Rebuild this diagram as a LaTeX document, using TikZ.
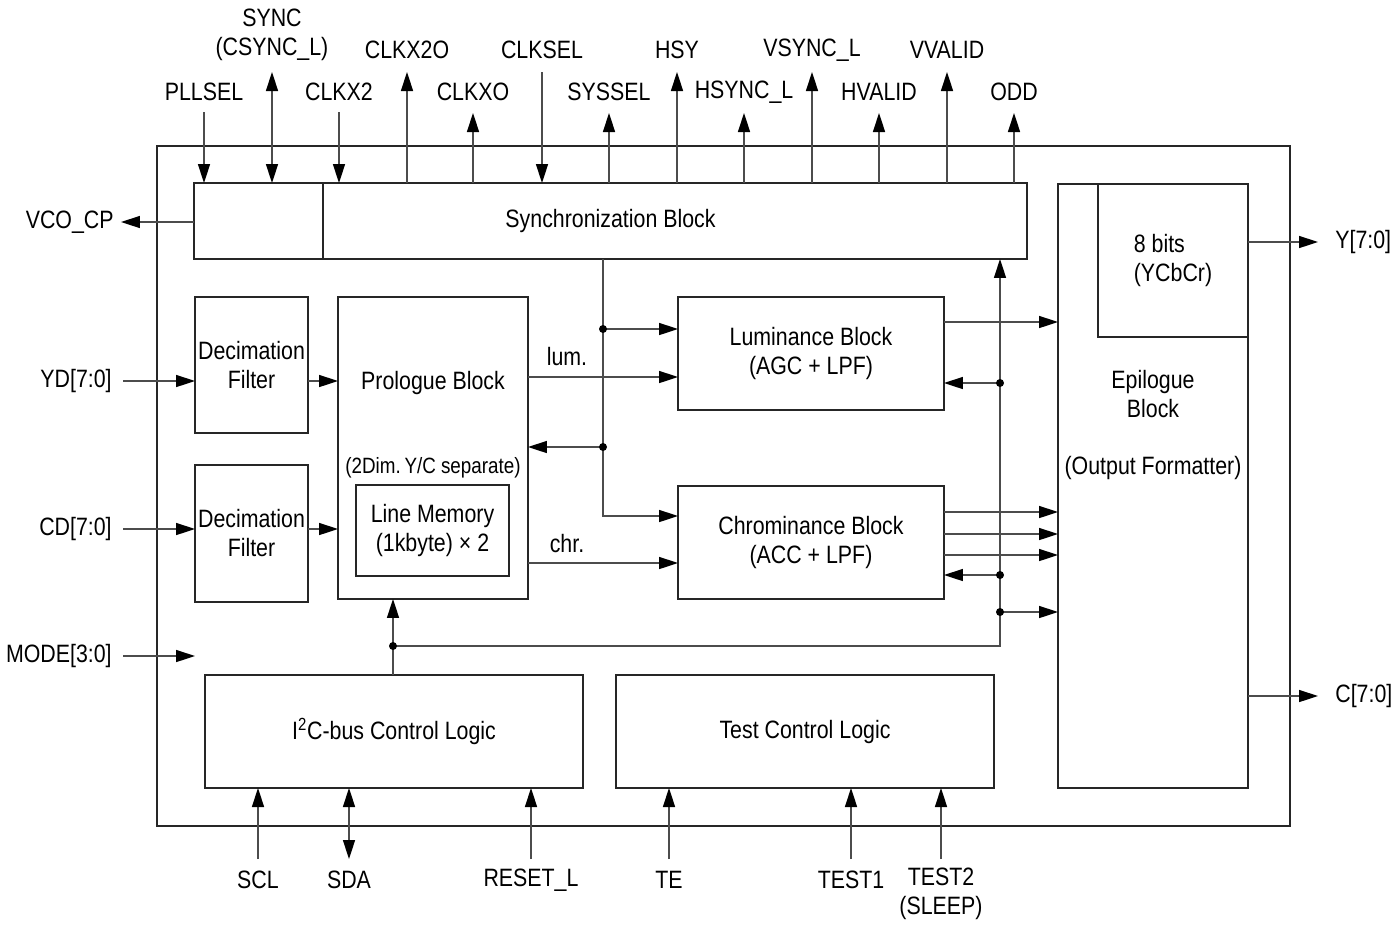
\documentclass[tikz,border=0pt]{standalone}
\usepackage{fontspec}
\setmainfont{Liberation Sans}[FakeStretch=0.85]
\usepackage{tikz}
\usetikzlibrary{arrows.meta,calc}

\begin{document}
\begin{tikzpicture}[
    x=0.02cm, y=-0.02cm,
    every node/.style={font=\fontsize{14.3}{16.5}\selectfont},
    rim/.style={draw=black!85, line width=1.1pt},
    blk/.style={
        rectangle,
        rim,
        inner sep=0pt,
        outer sep=0pt,
        align=center
    },
    lbl/.style={inner sep=0.1cm, align=center},
    wire/.style={draw=black!70, line width=0.85pt},
    arr/.style={wire, -{Triangle[length=0.38cm, width=0.24cm, color=black]}},
    biarr/.style={wire, {Triangle[length=0.38cm, width=0.24cm, color=black]}-{Triangle[length=0.38cm, width=0.24cm, color=black]}},
    dot/.style={circle, fill=black, inner sep=0pt, minimum size=0.16cm}
]
\useasboundingbox (0,0) rectangle (1399,924);

% Chip outline and blocks
\node[blk, minimum width=22.66cm, minimum height=13.6cm] (chip) at (723.5,486) {};

\node[blk, minimum width=16.66cm, minimum height=1.52cm] (sync) at (610.5,221) {Synchronization Block};
\draw[rim] (323,0 |- sync.north) -- (323,0 |- sync.south);

\node[blk, minimum width=2.26cm, minimum height=2.72cm] (decy) at (251.5,365) {Decimation\\Filter};
\node[blk, minimum width=2.26cm, minimum height=2.74cm] (decc) at (251.5,533.5) {Decimation\\Filter};

\node[blk, minimum width=3.8cm, minimum height=6.04cm] (pro) at (433,448) {};
\node (protitle) at (433,383) {Prologue Block};
\node[font=\fontsize{12.6}{15}\selectfont] (prosep) at (433,468) {(2Dim.\,Y/C separate)};
\node[blk, minimum width=3.06cm, minimum height=1.82cm] (linemem) at (432.5,530.5) {Line Memory\\(1kbyte) × 2};

\node[blk, minimum width=5.32cm, minimum height=2.26cm] (lum) at (811,353.5) {Luminance Block\\(AGC + LPF)};
\node[blk, minimum width=5.32cm, minimum height=2.26cm] (chro) at (811,542.5) {Chrominance Block\\(ACC + LPF)};

\node[blk, minimum width=3.8cm, minimum height=12.08cm] (epi) at (1153,486) {};
\node[blk, minimum width=3.0cm, minimum height=3.06cm, align=left] (bits) at (1173,260.5) {8 bits\\(YCbCr)};
\node[align=center] (epititle) at (1153,425) {Epilogue\\Block\\[0.58cm](Output Formatter)};

\node[blk, minimum width=7.56cm, minimum height=2.26cm] (i2c) at (394,731.5) {I\textsuperscript{2}C-bus Control Logic};
\node[blk, minimum width=7.56cm, minimum height=2.26cm] (test) at (805,731.5) {Test Control Logic};

% Top pins
\node[lbl] (pllsel) at (204,92) {PLLSEL};
\node[lbl] (syncl) at (272,35) {SYNC\\(CSYNC\_L)};
\node[lbl] (clkx2) at (339,92) {CLKX2};
\node[lbl] (clkx2o) at (407,50) {CLKX2O};
\node[lbl] (clkxo) at (473,92) {CLKXO};
\node[lbl] (clksel) at (542,50) {CLKSEL};
\node[lbl] (syssel) at (609,92) {SYSSEL};
\node[lbl] (hsy) at (677,50) {HSY};
\node[lbl] (hsyncl) at (744,92) {HSYNC\_L};
\node[lbl] (vsyncl) at (812,50) {VSYNC\_L};
\node[lbl] (hvalid) at (879,92) {HVALID};
\node[lbl] (vvalid) at (947,50) {VVALID};
\node[lbl] (odd) at (1014,92) {ODD};

\coordinate (pllselpin) at (204,112);
\coordinate (syncpin) at (272,72);
\coordinate (clkx2pin) at (339,112);
\coordinate (clkx2opin) at (407,72);
\coordinate (clkxopin) at (473,113);
\coordinate (clkselpin) at (542,72);
\coordinate (sysselpin) at (609,113);
\coordinate (hsypin) at (677,72);
\coordinate (hsynclpin) at (744,113);
\coordinate (vsynclpin) at (812,72);
\coordinate (hvalidpin) at (879,113);
\coordinate (vvalidpin) at (947,72);
\coordinate (oddpin) at (1014,113);

\draw[arr] (pllselpin) -- (pllselpin |- sync.north);
\draw[biarr] (syncpin) -- (syncpin |- sync.north);
\draw[arr] (clkx2pin) -- (clkx2pin |- sync.north);
\draw[arr] (clkx2opin |- sync.north) -- (clkx2opin);
\draw[arr] (clkxopin |- sync.north) -- (clkxopin);
\draw[arr] (clkselpin) -- (clkselpin |- sync.north);
\draw[arr] (sysselpin |- sync.north) -- (sysselpin);
\draw[arr] (hsypin |- sync.north) -- (hsypin);
\draw[arr] (hsynclpin |- sync.north) -- (hsynclpin);
\draw[arr] (vsynclpin |- sync.north) -- (vsynclpin);
\draw[arr] (hvalidpin |- sync.north) -- (hvalidpin);
\draw[arr] (vvalidpin |- sync.north) -- (vvalidpin);
\draw[arr] (oddpin |- sync.north) -- (oddpin);

% Left pins
\node[lbl, anchor=east] (vcocp) at (119,222) {VCO\_CP};
\node[lbl, anchor=east] (yd) at (117,381) {YD[7:0]};
\node[lbl, anchor=east] (cd) at (117,529) {CD[7:0]};
\node[lbl, anchor=east] (mode) at (117,656) {MODE[3:0]};

\coordinate (vcopin) at (121,222);
\coordinate (ydpin) at (123,381);
\coordinate (cdpin) at (123,529);
\coordinate (modepin) at (123,656);
\coordinate (modeend) at (195,656);

\draw[arr] (vcopin -| sync.west) -- (vcopin);
\draw[arr] (ydpin) -- (ydpin -| decy.west);
\draw[arr] (ydpin -| decy.east) -- (ydpin -| pro.west);
\draw[arr] (cdpin) -- (cdpin -| decc.west);
\draw[arr] (cdpin -| decc.east) -- (cdpin -| pro.west);
\draw[arr] (modepin) -- (modeend);

% Internal buses
\coordinate (busa) at (603,329);
\coordinate (busb) at (603,447);
\coordinate (busc) at (603,516);
\draw[arr] (busa |- sync.south) -- (busc) -- (busc -| chro.west);
\draw[arr] (busa) -- (busa -| lum.west);
\draw[arr] (busb) -- (busb -| pro.east);
\node[dot] (dota) at (busa) {};
\node[dot] (dotb) at (busb) {};

\coordinate (lumsig) at (600,377);
\coordinate (chrsig) at (600,563);
\draw[arr] (lumsig -| pro.east) -- (lumsig -| lum.west);
\draw[arr] (chrsig -| pro.east) -- (chrsig -| chro.west);
\node (lumlbl) at (567,357) {lum.};
\node (chrlbl) at (567,544) {chr.};

\coordinate (ctrl) at (393,646);
\coordinate (fbbot) at (1000,646);
\coordinate (fba) at (1000,383);
\coordinate (fbb) at (1000,575);
\coordinate (fbc) at (1000,612);
\draw[arr] (ctrl |- i2c.north) -- (ctrl |- pro.south);
\draw[arr] (ctrl) -- (fbbot) -- (fbbot |- sync.south);
\draw[arr] (fba) -- (fba -| lum.east);
\draw[arr] (fbb) -- (fbb -| chro.east);
\draw[arr] (fbc) -- (fbc -| epi.west);
\node[dot] (dotc) at (ctrl) {};
\node[dot] (dotd) at (fba) {};
\node[dot] (dote) at (fbb) {};
\node[dot] (dotf) at (fbc) {};

\coordinate (lumout) at (1000,322);
\coordinate (chrouta) at (1000,512);
\coordinate (chroutb) at (1000,534);
\coordinate (chroutc) at (1000,555);
\draw[arr] (lumout -| lum.east) -- (lumout -| epi.west);
\draw[arr] (chrouta -| chro.east) -- (chrouta -| epi.west);
\draw[arr] (chroutb -| chro.east) -- (chroutb -| epi.west);
\draw[arr] (chroutc -| chro.east) -- (chroutc -| epi.west);

% Right pins
\coordinate (ypin) at (1318,242);
\coordinate (cpin) at (1318,696);
\draw[arr] (ypin -| epi.east) -- (ypin);
\draw[arr] (cpin -| epi.east) -- (cpin);
\node[lbl, anchor=west] (yout) at (1330,242) {Y[7:0]};
\node[lbl, anchor=west] (cout) at (1330,696) {C[7:0]};

% Bottom pins
\node[lbl] (scl) at (258,880) {SCL};
\node[lbl] (sda) at (349,880) {SDA};
\node[lbl] (resetl) at (531,880) {RESET\_L};
\node[lbl] (te) at (669,880) {TE};
\node[lbl] (test1) at (851,880) {TEST1};
\node[lbl] (test2) at (941,894) {TEST2\\(SLEEP)};

\coordinate (sclpin) at (258,859);
\coordinate (sdapin) at (349,859);
\coordinate (resetpin) at (531,859);
\coordinate (tepin) at (669,859);
\coordinate (testapin) at (851,859);
\coordinate (testbpin) at (941,859);

\draw[arr] (sclpin) -- (sclpin |- i2c.south);
\draw[biarr] (sdapin) -- (sdapin |- i2c.south);
\draw[arr] (resetpin) -- (resetpin |- i2c.south);
\draw[arr] (tepin) -- (tepin |- test.south);
\draw[arr] (testapin) -- (testapin |- test.south);
\draw[arr] (testbpin) -- (testbpin |- test.south);

\end{tikzpicture}
\end{document}
